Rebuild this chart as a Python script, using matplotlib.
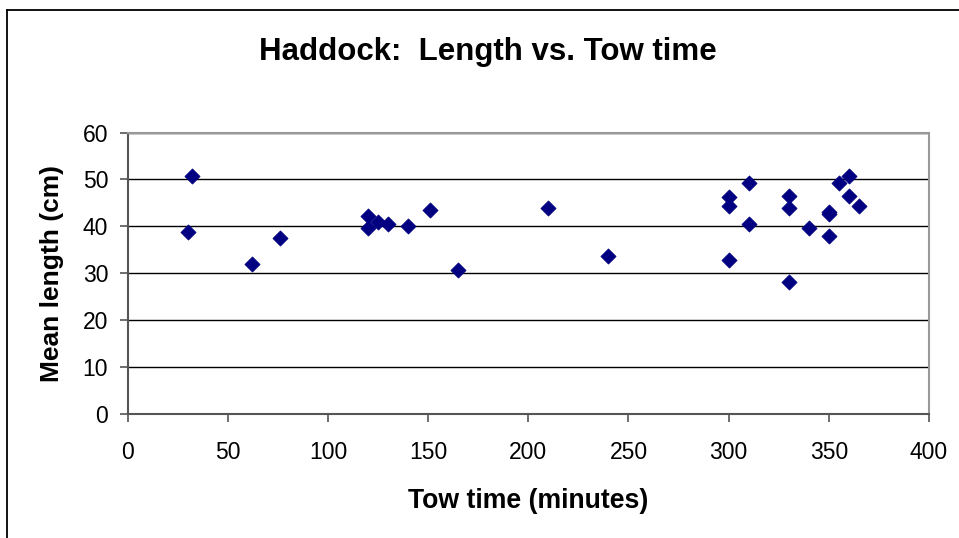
import matplotlib.pyplot as plt
from matplotlib.lines import Line2D

plt.rcParams['font.family'] = ['Liberation Sans', 'DejaVu Sans']

# Tow time (minutes) and mean length (cm)
tow_time = [30, 32, 62, 76, 120, 120, 125, 130, 140, 151, 165,
            210, 240, 300, 300, 300, 310, 310, 330, 330, 330,
            340, 350, 350, 350, 355, 360, 360, 365]
mean_length = [38.8, 50.8, 32.0, 37.6, 42.2, 39.7, 41.0, 40.5, 40.1, 43.6, 30.7,
               43.9, 33.7, 46.2, 44.3, 32.8, 49.2, 40.5, 46.5, 43.9, 28.1,
               39.7, 43.1, 42.6, 38.0, 49.2, 50.8, 46.5, 44.4]

x_ticks = [0, 50, 100, 150, 200, 250, 300, 350, 400]
y_ticks = [0, 10, 20, 30, 40, 50, 60]

fig = plt.figure(figsize=(9.59, 5.38), dpi=100)
ax = fig.add_axes([0.133, 0.23, 0.8357, 0.5237])

ax.scatter(tow_time, mean_length, marker='D', s=60, color='#000080',
           edgecolors='#000080', linewidths=0.5, zorder=3, clip_on=False)

ax.set_xlim(0, 400)
ax.set_ylim(0, 60)
ax.set_xticks(x_ticks)
ax.set_yticks(y_ticks)
ax.yaxis.grid(True, color='black', linewidth=1)
ax.set_axisbelow(True)

ax.spines['left'].set_color('#555555')
ax.spines['bottom'].set_color('#555555')
ax.spines['top'].set_color('#999999')
ax.spines['right'].set_color('#999999')
for s in ax.spines.values():
    s.set_linewidth(1.5)
ax.tick_params(axis='both', direction='out', length=6, width=1.2, color='#555555',
               labelsize=16.5)
ax.tick_params(axis='x', pad=13.5)
ax.tick_params(axis='y', pad=8)

ax.set_xlabel('Tow time (minutes)', fontsize=19.2, fontweight='bold', va='baseline')
ax.xaxis.set_label_coords(0.5, -0.3325)
ax.set_ylabel('Mean length (cm)', fontsize=19, fontweight='bold', va='center')
ax.yaxis.set_label_coords(-0.094, 0.5)
fig.text(488 / 959, 1 - 60 / 538, 'Haddock:  Length vs. Tow time', ha='center',
         va='baseline', fontsize=22.5, fontweight='bold')

# outer chart frame (left and top edges visible)
fig.add_artist(Line2D([6.5 / 959, 6.5 / 959], [0, 1 - 10 / 538], color='black', lw=1.3))
fig.add_artist(Line2D([6.5 / 959, 1], [1 - 10 / 538, 1 - 10 / 538], color='black', lw=1.3))

fig.savefig('out.png', dpi=100)
